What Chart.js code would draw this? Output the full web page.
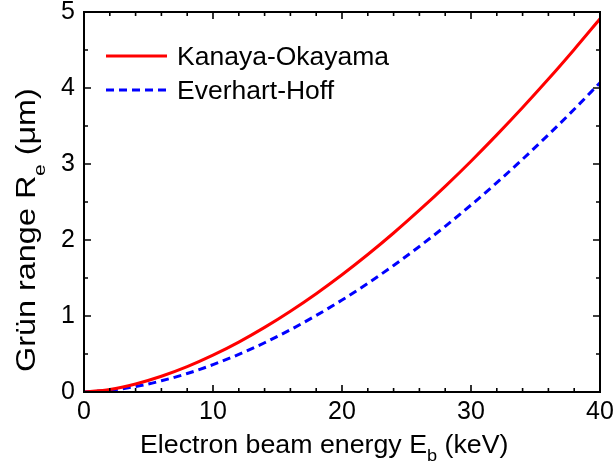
<!DOCTYPE html>
<html>
<head>
<meta charset="utf-8">
<script src="https://cdn.jsdelivr.net/npm/chart.js@4/dist/chart.umd.min.js"></script>
<style>
  html, body { margin: 0; padding: 0; background: #ffffff; }
  canvas { display: block; }
</style>
</head>
<body>
<canvas id="range" width="616" height="470"></canvas>
<script>
// Beam energy (keV) and electron range (µm) for the two range models
const energyKeV = [0, 2, 4, 6, 8, 10, 12, 14, 16, 18, 20, 22, 24, 26, 28, 30, 32, 34, 36, 38, 40];
const kanayaOkayama = [0, 0.033, 0.105, 0.207, 0.334, 0.485, 0.657, 0.850, 1.063, 1.294, 1.543,
  1.809, 2.092, 2.392, 2.706, 3.037, 3.383, 3.743, 4.117, 4.507, 4.910];
const everhartHoff = [0, 0.022, 0.072, 0.147, 0.243, 0.360, 0.495, 0.648, 0.819, 1.007, 1.210,
  1.430, 1.665, 1.915, 2.180, 2.460, 2.754, 3.063, 3.385, 3.720, 4.070];

// Axis ticks
const xMajorTicks = [0, 10, 20, 30, 40];
const xMinorTicks = [2, 4, 6, 8, 12, 14, 16, 18, 22, 24, 26, 28, 32, 34, 36, 38];
const yMajorTicks = [0, 1, 2, 3, 4, 5];
const yMinorTicks = [0.5, 1.5, 2.5, 3.5, 4.5];

const seriesNames = ['Kanaya-Okayama', 'Everhart-Hoff'];
const FONT = '"Liberation Sans", Arial, Helvetica, sans-serif';

function toPoints(ys) {
  return energyKeV.map((e, i) => ({ x: e, y: ys[i] }));
}

// Text with subscript segments, drawn left to right from the current origin
function drawRich(ctx, parts, size, subSize, subShift) {
  let x = 0;
  for (const p of parts) {
    ctx.font = (p.sub ? subSize : size) + 'px ' + FONT;
    ctx.fillText(p.text, x, p.sub ? subShift : 0);
    x += ctx.measureText(p.text).width;
  }
  return x;
}

const framePlugin = {
  id: 'frameAndAnnotations',
  afterDraw(chart) {
    const { ctx, chartArea: a, scales } = chart;
    const xs = scales.x, ys = scales.y;
    ctx.save();

    // Plot frame
    ctx.strokeStyle = '#000';
    ctx.lineWidth = 2;
    ctx.strokeRect(a.left, a.top, a.right - a.left, a.bottom - a.top);

    // Inward ticks on all four sides
    ctx.lineWidth = 1.6;
    ctx.beginPath();
    const xTick = (v, len) => {
      const px = xs.getPixelForValue(v);
      ctx.moveTo(px, a.bottom); ctx.lineTo(px, a.bottom - len);
      ctx.moveTo(px, a.top); ctx.lineTo(px, a.top + len);
    };
    const yTick = (v, len) => {
      const py = ys.getPixelForValue(v);
      ctx.moveTo(a.left, py); ctx.lineTo(a.left + len, py);
      ctx.moveTo(a.right, py); ctx.lineTo(a.right - len, py);
    };
    xMajorTicks.forEach(v => xTick(v, 7));
    xMinorTicks.forEach(v => xTick(v, 4));
    yMajorTicks.forEach(v => yTick(v, 7));
    yMinorTicks.forEach(v => yTick(v, 4));
    ctx.stroke();

    // Legend
    const legendRows = [65, 99];
    chart.data.datasets.forEach((ds, i) => {
      const base = legendRows[i];
      const mid = base - 9;
      ctx.save();
      ctx.strokeStyle = ds.borderColor;
      ctx.lineWidth = 3;
      ctx.setLineDash(ds.borderDash || []);
      ctx.beginPath();
      ctx.moveTo(106, mid);
      ctx.lineTo(167, mid);
      ctx.stroke();
      ctx.restore();
      ctx.save();
      ctx.fillStyle = '#000';
      ctx.textBaseline = 'alphabetic';
      ctx.translate(177, base);
      ctx.scale(1.06, 1);
      ctx.font = '25px ' + FONT;
      ctx.fillText(ds.label, 0, 0);
      ctx.restore();
    });

    // X axis title
    ctx.save();
    ctx.fillStyle = '#000';
    ctx.textBaseline = 'alphabetic';
    ctx.translate(140, 453);
    ctx.scale(1.07, 1);
    drawRich(ctx, [
      { text: 'Electron beam energy E' },
      { text: 'b', sub: true },
      { text: ' (keV)' }
    ], 25, 17, 8);
    ctx.restore();

    // Y axis title
    ctx.save();
    ctx.fillStyle = '#000';
    ctx.textBaseline = 'alphabetic';
    ctx.translate(35, 372);
    ctx.rotate(-Math.PI / 2);
    ctx.scale(1.2, 1);
    drawRich(ctx, [
      { text: 'Grün range R' },
      { text: 'e', sub: true },
      { text: ' (μm)' }
    ], 27, 17, 10);
    ctx.restore();

    ctx.restore();
  }
};

new Chart(document.getElementById('range'), {
  type: 'line',
  data: {
    datasets: [
      {
        label: seriesNames[0],
        data: toPoints(kanayaOkayama),
        borderColor: '#ff0000',
        borderWidth: 3,
        pointRadius: 0,
        cubicInterpolationMode: 'monotone',
        fill: false
      },
      {
        label: seriesNames[1],
        data: toPoints(everhartHoff),
        borderColor: '#0000ff',
        borderWidth: 3,
        borderDash: [8, 5],
        pointRadius: 0,
        cubicInterpolationMode: 'monotone',
        fill: false
      }
    ]
  },
  options: {
    responsive: false,
    animation: false,
    devicePixelRatio: 1,
    layout: { padding: { top: 12, right: 16, left: 0, bottom: 0 } },
    plugins: {
      legend: { display: false },
      tooltip: { enabled: false }
    },
    scales: {
      x: {
        type: 'linear',
        min: 0,
        max: 40,
        afterBuildTicks: s => { s.ticks = xMajorTicks.map(v => ({ value: v })); },
        afterFit: s => { s.height = 78; s.paddingLeft = 0; s.paddingRight = 0; },
        grid: { display: false, drawTicks: false },
        border: { display: false },
        ticks: {
          color: '#000',
          font: { family: FONT, size: 25 },
          padding: 5,
          maxRotation: 0,
          autoSkip: false
        }
      },
      y: {
        type: 'linear',
        min: 0,
        max: 5,
        afterBuildTicks: s => { s.ticks = yMajorTicks.map(v => ({ value: v })); },
        afterFit: s => { s.width = 84; s.paddingTop = 0; s.paddingBottom = 0; },
        grid: { display: false, drawTicks: false },
        border: { display: false },
        ticks: {
          color: '#000',
          font: { family: FONT, size: 25 },
          padding: 9,
          autoSkip: false
        }
      }
    }
  },
  plugins: [framePlugin]
});
</script>
</body>
</html>
